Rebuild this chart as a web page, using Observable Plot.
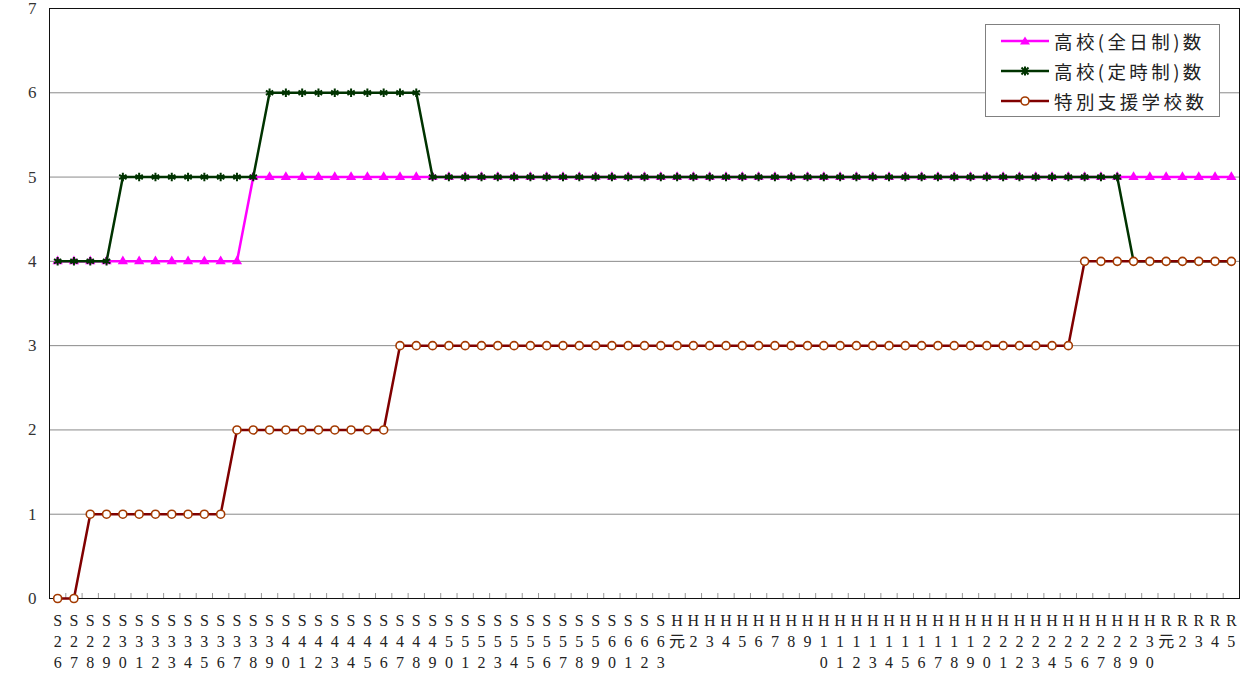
<!DOCTYPE html>
<html>
<head>
<meta charset="utf-8">
<script src="https://cdn.jsdelivr.net/npm/d3@7"></script>
<script src="https://cdn.jsdelivr.net/npm/@observablehq/plot@0.6"></script>
<style>
  body { margin: 0; background: #fff; }
  #wrap { position: relative; width: 1248px; height: 677px; }
  #legend {
    position: absolute; left: 985px; top: 24px; width: 235px; height: 93px;
    border: 1px solid #808080; background: #fff; box-sizing: border-box;
    font-family: "Noto Sans CJK JP", sans-serif; font-size: 18.5px; letter-spacing: 3.4px; color: #222;
    padding-top: 1px;
  }
  .row { display: flex; align-items: center; height: 30px; }
  .row svg { margin-left: 15px; margin-right: 5px; flex: none; }
</style>
</head>
<body>
<div id="wrap"></div>
<script>
const cats = [
  "S26","S27","S28","S29","S30","S31","S32","S33","S34","S35","S36","S37","S38","S39",
  "S40","S41","S42","S43","S44","S45","S46","S47","S48","S49","S50","S51","S52","S53",
  "S54","S55","S56","S57","S58","S59","S60","S61","S62","S63",
  "H元","H2","H3","H4","H5","H6","H7","H8","H9","H10","H11","H12","H13","H14","H15",
  "H16","H17","H18","H19","H20","H21","H22","H23","H24","H25","H26","H27","H28","H29","H30",
  "R元","R2","R3","R4","R5"
];
const fullTime = [
  4,4,4,4,4,4,4,4,4,4,4,4,5,5,
  5,5,5,5,5,5,5,5,5,5,5,5,5,5,
  5,5,5,5,5,5,5,5,5,5,
  5,5,5,5,5,5,5,5,5,5,5,5,5,5,5,
  5,5,5,5,5,5,5,5,5,5,5,5,5,5,5,
  5,5,5,5,5
];
const partTime = [
  4,4,4,4,5,5,5,5,5,5,5,5,5,6,
  6,6,6,6,6,6,6,6,6,5,5,5,5,5,
  5,5,5,5,5,5,5,5,5,5,
  5,5,5,5,5,5,5,5,5,5,5,5,5,5,5,
  5,5,5,5,5,5,5,5,5,5,5,5,5,4,4,
  4,4,4,4,4
];
const special = [
  0,0,1,1,1,1,1,1,1,1,1,2,2,2,
  2,2,2,2,2,2,2,3,3,3,3,3,3,3,
  3,3,3,3,3,3,3,3,3,3,
  3,3,3,3,3,3,3,3,3,3,3,3,3,3,3,
  3,3,3,3,3,3,3,3,3,3,4,4,4,4,4,
  4,4,4,4,4
];
const yTicks = [0,1,2,3,4,5,6,7];
const seriesNames = ["高校(全日制)数","高校(定時制)数","特別支援学校数"];

const W = 1248, H = 677, mL = 49, mR = 9, mT = 8, mB = 79;
const step = (W - mL - mR) / cats.length;

const rows = cats.map((c, i) => ({c, full: fullTime[i], part: partTime[i], spec: special[i]}));
const serif = "'Liberation Serif', 'Noto Sans CJK JP', serif";

const chart = Plot.plot({
  width: W, height: H,
  marginLeft: mL, marginRight: mR, marginTop: mT, marginBottom: mB,
  style: {background: "#fff", overflow: "visible"},
  x: {type: "point", domain: cats, padding: 0.5, round: false, axis: null},
  y: {domain: [0, 7], axis: null},
  marks: [
    Plot.ruleY(yTicks.filter(d => d > 0 && d < 7), {stroke: "#8a8a8a", strokeWidth: 1}),
    Plot.frame({stroke: "#111", strokeWidth: 1}),
    Plot.ruleX(cats.slice(0, -1), {x: d => d, dx: step / 2, insetTop: H - mT - mB - 5, stroke: "#999", strokeWidth: 1}),
    Plot.text(yTicks, {y: d => d, text: d => String(d), frameAnchor: "left", textAnchor: "end", dx: -13,
      fontSize: 17, fontFamily: serif, fill: "#333"}),
    Plot.text(cats, {x: d => d, text: d => Array.from(d).join("\n"), frameAnchor: "bottom", lineAnchor: "top",
      dy: 13, lineHeight: 1.3, fontSize: 16, fontFamily: serif, fill: "#222"}),
    Plot.line(rows, {x: "c", y: "full", stroke: "#ff00ff", strokeWidth: 2.5}),
    Plot.dot(rows, {x: "c", y: "full", symbol: "triangle", r: 3.8, fill: "#ff00ff", stroke: "none"}),
    Plot.line(rows, {x: "c", y: "part", stroke: "#003300", strokeWidth: 2.5}),
    Plot.dot(rows, {x: "c", y: "part", symbol: "asterisk", r: 4, stroke: "#003300", strokeWidth: 2}),
    Plot.line(rows, {x: "c", y: "spec", stroke: "#800000", strokeWidth: 2.5}),
    Plot.dot(rows, {x: "c", y: "spec", symbol: "circle", r: 4, fill: "#fff", stroke: "#a33a00", strokeWidth: 1.6})
  ]
});

const wrap = document.getElementById("wrap");
wrap.appendChild(chart);

// Legend
const legendStyles = [
  {stroke: "#ff00ff", marker: '<path d="M24,5.5 L29,13.5 L19,13.5 Z" fill="#ff00ff"/>'},
  {stroke: "#003300", marker: '<g stroke="#003300" stroke-width="2"><line x1="20.5" y1="6.5" x2="27.5" y2="13.5"/><line x1="27.5" y1="6.5" x2="20.5" y2="13.5"/><line x1="24" y1="5.5" x2="24" y2="14.5"/></g>'},
  {stroke: "#800000", marker: '<circle cx="24" cy="10" r="4" fill="#fff" stroke="#a33a00" stroke-width="1.6"/>'}
];
const legend = document.createElement("div");
legend.id = "legend";
seriesNames.forEach((name, i) => {
  const row = document.createElement("div");
  row.className = "row";
  row.innerHTML = `<svg width="48" height="20"><line x1="0" y1="10" x2="48" y2="10" stroke="${legendStyles[i].stroke}" stroke-width="2.5"/>${legendStyles[i].marker}</svg><span>${name}</span>`;
  legend.appendChild(row);
});
wrap.appendChild(legend);
</script>
</body>
</html>
